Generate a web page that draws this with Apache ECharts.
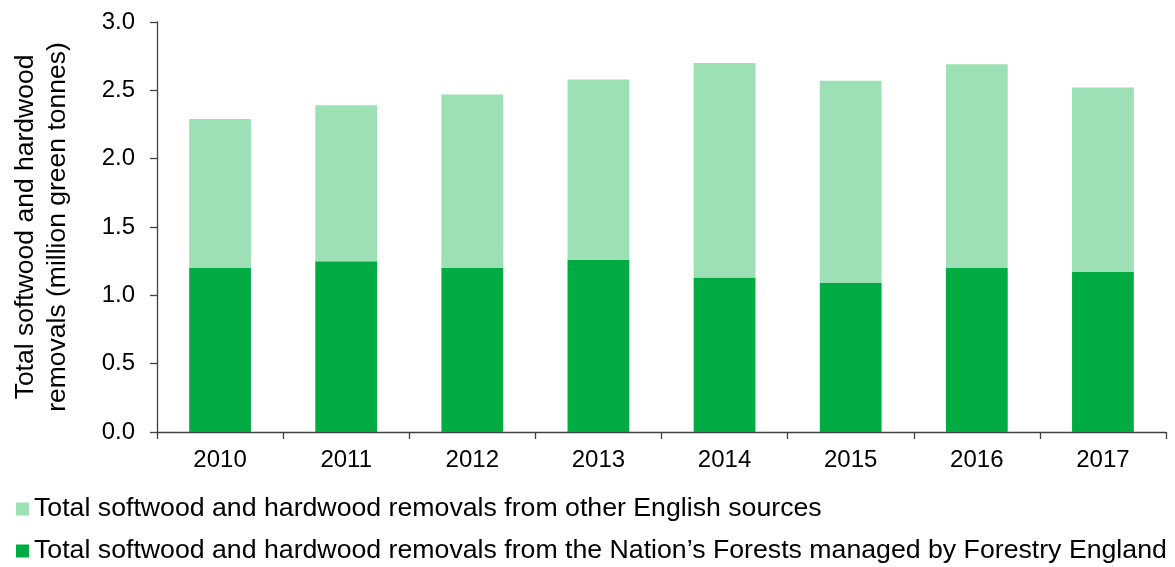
<!DOCTYPE html>
<html>
<head>
<meta charset="utf-8">
<script src="https://cdn.jsdelivr.net/npm/echarts@6/dist/echarts.min.js"></script>
<style>
  html, body { margin: 0; padding: 0; background: #fff; }
  #chart { width: 1175px; height: 567px; }
</style>
</head>
<body>
<div id="chart"></div>
<script>
// Removals of softwood and hardwood in England (million green tonnes)
const years = ['2010', '2011', '2012', '2013', '2014', '2015', '2016', '2017'];
const nationsForests = [1.20, 1.25, 1.20, 1.26, 1.13, 1.09, 1.20, 1.17];
const otherSources = [1.09, 1.14, 1.27, 1.32, 1.57, 1.48, 1.49, 1.35];
const yTicks = ['0.0', '0.5', '1.0', '1.5', '2.0', '2.5', '3.0'];

const nameOther = 'Total softwood and hardwood removals from other English sources';
const nameForests = 'Total softwood and hardwood removals from the Nation\u2019s Forests managed by Forestry England';

const font = '"Liberation Sans", Arial, sans-serif';
const axisColor = '#404040';

const chart = echarts.init(document.getElementById('chart'), null, { renderer: 'canvas' });
chart.setOption({
  animation: false,
  textStyle: { fontFamily: font, color: '#000' },
  grid: { left: 157, right: 9, top: 22, bottom: 135, containLabel: false },
  legend: {
    orient: 'vertical',
    left: 16,
    top: 495,
    padding: 0,
    itemWidth: 13,
    itemHeight: 13,
    itemGap: 14,
    icon: 'rect',
    selectedMode: false,
    textStyle: { fontFamily: font, fontSize: 26.7, lineHeight: 28, color: '#000' },
    data: [nameOther, nameForests]
  },
  xAxis: {
    type: 'category',
    data: years,
    axisLine: { lineStyle: { color: axisColor, width: 1.3 } },
    axisTick: { show: true, length: 7, inside: false, alignWithLabel: false, lineStyle: { color: axisColor, width: 1.3 } },
    axisLabel: { fontFamily: font, fontSize: 24, color: '#000', margin: 16 }
  },
  yAxis: {
    type: 'value',
    min: 0,
    max: 3,
    interval: 0.5,
    name: 'Total softwood and hardwood\nremovals (million green tonnes)',
    nameLocation: 'middle',
    nameRotate: 90,
    nameGap: 83,
    nameTextStyle: { fontFamily: font, fontSize: 26.5, color: '#000', lineHeight: 32 },
    axisLine: { show: true, lineStyle: { color: axisColor, width: 1.3 } },
    axisTick: { show: true, length: 7, lineStyle: { color: axisColor, width: 1.3 } },
    splitLine: { show: false },
    axisLabel: {
      fontFamily: font, fontSize: 24, color: '#000', margin: 22,
      formatter: function (v) { return yTicks[Math.round(v / 0.5)]; }
    }
  },
  series: [
    {
      name: nameForests,
      type: 'bar',
      stack: 'total',
      data: nationsForests,
      barCategoryGap: '51%',
      itemStyle: { color: '#00AC41' }
    },
    {
      name: nameOther,
      type: 'bar',
      stack: 'total',
      data: otherSources,
      barCategoryGap: '51%',
      itemStyle: { color: '#9DE0B5' }
    }
  ]
});
</script>
</body>
</html>
